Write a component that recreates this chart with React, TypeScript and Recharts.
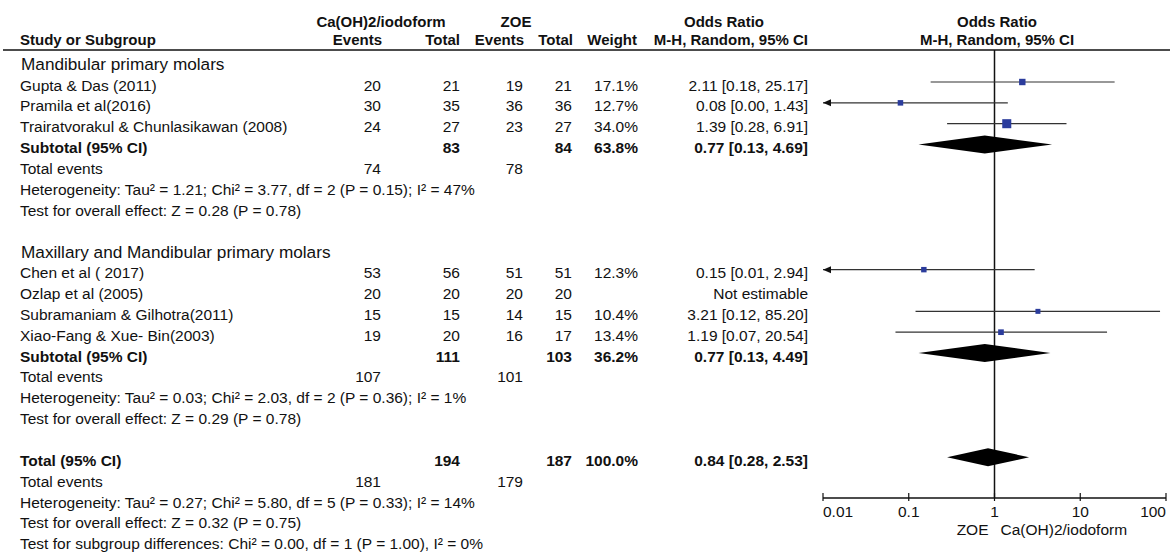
import React from 'react';
import { ComposedChart, Scatter, XAxis, YAxis, ReferenceLine, ReferenceDot } from 'recharts';

// ---- data ----
const groupNames = ['Mandibular primary molars', 'Maxillary and Mandibular primary molars'];

const studyNames = [
  'Gupta & Das (2011)',
  'Pramila et al(2016)',
  'Trairatvorakul & Chunlasikawan (2008)',
  'Chen et al ( 2017)',
  'Ozlap et al (2005)',
  'Subramaniam & Gilhotra(2011)',
  'Xiao-Fang & Xue- Bin(2003)',
];
const studyGroup = [0, 0, 0, 1, 1, 1, 1];
const caEvents = [20, 30, 24, 53, 20, 15, 19];
const caTotal = [21, 35, 27, 56, 20, 15, 20];
const zoeEvents = [19, 36, 23, 51, 20, 14, 16];
const zoeTotal = [21, 36, 27, 51, 20, 15, 17];
const studyWeight = [17.1, 12.7, 34.0, 12.3, null, 10.4, 13.4];
const studyOr = [2.11, 0.08, 1.39, 0.15, null, 3.21, 1.19];
const studyLow = [0.18, 0.0, 0.28, 0.01, null, 0.12, 0.07];
const studyHigh = [25.17, 1.43, 6.91, 2.94, null, 85.2, 20.54];

const subCaEvents = [74, 107];
const subCaTotal = [83, 111];
const subZoeEvents = [78, 101];
const subZoeTotal = [84, 103];
const subWeight = [63.8, 36.2];
const subOr = [0.77, 0.77];
const subLow = [0.13, 0.13];
const subHigh = [4.69, 4.49];
const subTau2 = [1.21, 0.03];
const subChi2 = [3.77, 2.03];
const subDf = [2, 2];
const subPHet = [0.15, 0.36];
const subI2 = [47, 1];
const subZ = [0.28, 0.29];
const subPZ = [0.78, 0.78];

const total = { caEvents: 181, caTotal: 194, zoeEvents: 179, zoeTotal: 187, weight: 100.0 };
const totalOr = 0.84;
const totalLow = 0.28;
const totalHigh = 2.53;
const totalHet = { tau2: 0.27, chi2: 5.8, df: 5, p: 0.33, i2: 14 };
const totalZ = { z: 0.32, p: 0.75 };
const subgroupDiff = { chi2: 0.0, df: 1, p: 1.0, i2: 0 };

const axisTicks = [0.01, 0.1, 1, 10, 100];
const favoursLeft = 'ZOE';
const favoursRight = 'Ca(OH)2/iodoform';

// ---- layout ----
const W = 1172;
const H = 553;
const FIRST_ROW_Y = 82;
const ROW_H = 20.85;
const PLOT_LEFT = 823;
const PLOT_RIGHT = 1166;
const AXIS_Y = 498;
const HEADER_LINE_Y = 50;
const TEXT_DY = 8.5;
const FS = 15.5;
const FS_HEAD = 15;
const FONT = '"Liberation Sans", Arial, sans-serif';
const INK = '#111';
const X_MIN = axisTicks[0];
const X_MAX = axisTicks[axisTicks.length - 1];

const rowOf = (px: number) => (px - FIRST_ROW_Y) / ROW_H;
const K_AXIS = rowOf(AXIS_Y);
const K_LINE_TOP = rowOf(HEADER_LINE_Y);

const COL = { caE: 381, caT: 460, zoeE: 523, zoeT: 572, weight: 638, or: 808 };

const f2 = (v: number) => v.toFixed(2);
const orText = (e: number, l: number, h: number) => `${f2(e)} [${f2(l)}, ${f2(h)}]`;
const hetText = (tau2: number, chi2: number, df: number, p: number, i2: number) =>
  `Heterogeneity: Tau² = ${f2(tau2)}; Chi² = ${f2(chi2)}, df = ${df} (P = ${f2(p)}); I² = ${i2}%`;
const zText = (z: number, p: number) => `Test for overall effect: Z = ${f2(z)} (P = ${f2(p)})`;

type TableRow = {
  x: number;
  k: number;
  kind: 'header' | 'heading' | 'row';
  name?: string;
  bold?: boolean;
  caE?: string;
  caT?: string;
  zoeE?: string;
  zoeT?: string;
  weight?: string;
  or?: string;
};

// build table rows, marks and diamonds
const tableRows: TableRow[] = [{ x: 1, k: -2, kind: 'header' }];
const squares: { x: number; k: number; w: number }[] = [];
const ciLines: { lo: number; hi: number; k: number }[] = [];
const diamonds: { est: number; lo: number; hi: number; k: number }[] = [];

let k = -1;
groupNames.forEach((g, gi) => {
  tableRows.push({ x: 1, k, kind: 'heading', name: g });
  k++;
  studyNames.forEach((s, i) => {
    if (studyGroup[i] !== gi) return;
    const est = studyOr[i];
    tableRows.push({
      x: 1, k, kind: 'row', name: s,
      caE: String(caEvents[i]), caT: String(caTotal[i]),
      zoeE: String(zoeEvents[i]), zoeT: String(zoeTotal[i]),
      weight: studyWeight[i] != null ? `${(studyWeight[i] as number).toFixed(1)}%` : '',
      or: est != null ? orText(est, studyLow[i] as number, studyHigh[i] as number) : 'Not estimable',
    });
    if (est != null) {
      squares.push({ x: est, k, w: studyWeight[i] as number });
      ciLines.push({ lo: studyLow[i] as number, hi: studyHigh[i] as number, k });
    }
    k++;
  });
  tableRows.push({
    x: 1, k, kind: 'row', bold: true, name: 'Subtotal (95% CI)',
    caT: String(subCaTotal[gi]), zoeT: String(subZoeTotal[gi]),
    weight: `${subWeight[gi].toFixed(1)}%`, or: orText(subOr[gi], subLow[gi], subHigh[gi]),
  });
  diamonds.push({ est: subOr[gi], lo: subLow[gi], hi: subHigh[gi], k });
  k++;
  tableRows.push({ x: 1, k, kind: 'row', name: 'Total events', caE: String(subCaEvents[gi]), zoeE: String(subZoeEvents[gi]) });
  k++;
  tableRows.push({ x: 1, k, kind: 'row', name: hetText(subTau2[gi], subChi2[gi], subDf[gi], subPHet[gi], subI2[gi]) });
  k++;
  tableRows.push({ x: 1, k, kind: 'row', name: zText(subZ[gi], subPZ[gi]) });
  k += 2;
});
tableRows.push({
  x: 1, k, kind: 'row', bold: true, name: 'Total (95% CI)',
  caT: String(total.caTotal), zoeT: String(total.zoeTotal),
  weight: `${total.weight.toFixed(1)}%`, or: orText(totalOr, totalLow, totalHigh),
});
diamonds.push({ est: totalOr, lo: totalLow, hi: totalHigh, k });
k++;
tableRows.push({ x: 1, k, kind: 'row', name: 'Total events', caE: String(total.caEvents), zoeE: String(total.zoeEvents) });
k++;
tableRows.push({ x: 1, k, kind: 'row', name: hetText(totalHet.tau2, totalHet.chi2, totalHet.df, totalHet.p, totalHet.i2) });
k++;
tableRows.push({ x: 1, k, kind: 'row', name: zText(totalZ.z, totalZ.p) });
k++;
tableRows.push({
  x: 1, k, kind: 'row',
  name: `Test for subgroup differences: Chi² = ${f2(subgroupDiff.chi2)}, df = ${subgroupDiff.df} (P = ${f2(subgroupDiff.p)}), I² = ${subgroupDiff.i2}%`,
});

const tickData = axisTicks.map((t) => ({ x: t, k: K_AXIS }));

const txt = (s: string | undefined, x: number, y: number, anchor: 'start' | 'middle' | 'end', bold?: boolean, size = FS) =>
  s ? (
    <text x={x} y={y} textAnchor={anchor} fontFamily={FONT} fontSize={size} fontWeight={bold ? 'bold' : 'normal'} fill={INK}>
      {s}
    </text>
  ) : null;

const RowShape = (props: any) => {
  const { cy, payload } = props;
  const r = payload as TableRow;
  if (r.kind === 'header') {
    const b2 = cy + 4.5;
    const b1 = cy - 13;
    return (
      <g>
        {txt('Ca(OH)2/iodoform', 381, b1, 'middle', true, FS_HEAD)}
        {txt('ZOE', 516, b1, 'middle', true, FS_HEAD)}
        {txt('Odds Ratio', 724, b1, 'middle', true, FS_HEAD)}
        {txt('Odds Ratio', 997, b1, 'middle', true, FS_HEAD)}
        {txt('Study or Subgroup', 20, b2, 'start', true, FS_HEAD)}
        {txt('Events', 382, b2, 'end', true, FS_HEAD)}
        {txt('Total', 460, b2, 'end', true, FS_HEAD)}
        {txt('Events', 524, b2, 'end', true, FS_HEAD)}
        {txt('Total', 573, b2, 'end', true, FS_HEAD)}
        {txt('Weight', 637, b2, 'end', true, FS_HEAD)}
        {txt('M-H, Random, 95% CI', 808, b2, 'end', true, FS_HEAD)}
        {txt('M-H, Random, 95% CI', 997, b2, 'middle', true, FS_HEAD)}
        <line x1={3} x2={1170} y1={HEADER_LINE_Y} y2={HEADER_LINE_Y} stroke={INK} strokeWidth={1.5} />
      </g>
    );
  }
  if (r.kind === 'heading') {
    return <g>{txt(r.name, 21, cy + TEXT_DY + 0.5, 'start', false, 17.2)}</g>;
  }
  const y = cy + TEXT_DY;
  return (
    <g>
      {txt(r.name, 20, y, 'start', r.bold)}
      {txt(r.caE, COL.caE, y, 'end', r.bold)}
      {txt(r.caT, COL.caT, y, 'end', r.bold)}
      {txt(r.zoeE, COL.zoeE, y, 'end', r.bold)}
      {txt(r.zoeT, COL.zoeT, y, 'end', r.bold)}
      {txt(r.weight, COL.weight, y, 'end', r.bold)}
      {txt(r.or, COL.or, y, 'end', r.bold)}
    </g>
  );
};

const SquareShape = (props: any) => {
  const { cx, cy, payload } = props;
  const s = 1.55 * Math.sqrt(payload.w);
  return <rect x={cx - s / 2} y={cy - s / 2} width={s} height={s} fill="#2b3c9c" />;
};

const TickShape = (props: any) => {
  const { cx, cy, payload } = props;
  const first = payload.x === X_MIN;
  const last = payload.x === X_MAX;
  return (
    <g>
      <line x1={cx} x2={cx} y1={cy - 5} y2={cy + 3} stroke={INK} strokeWidth={1.2} />
      {txt(String(payload.x), cx, cy + 19, first ? 'start' : last ? 'end' : 'middle')}
    </g>
  );
};

const ciShape = (clipped: boolean) => (p: any) => (
  <g>
    <line x1={p.x1} x2={p.x2} y1={p.y1} y2={p.y2} stroke="#333" strokeWidth={1.2} />
    {clipped && <polygon points={`${p.x1},${p.y1} ${p.x1 + 8},${p.y1 - 3.5} ${p.x1 + 8},${p.y1 + 3.5}`} fill="#111" />}
  </g>
);

const diamondShape = (d: { est: number; lo: number; hi: number }) => (p: any) => {
  const frac = Math.log(d.est / d.lo) / Math.log(d.hi / d.lo);
  const mx = p.x1 + (p.x2 - p.x1) * frac;
  const h = 9;
  return <polygon points={`${p.x1},${p.y1} ${mx},${p.y1 - h} ${p.x2},${p.y1} ${mx},${p.y1 + h}`} fill="#000" />;
};

const AxisTitle = (p: any) => (
  <g>
    {txt(favoursLeft, p.cx - 6, p.cy + 37, 'end')}
    {txt(favoursRight, p.cx + 6, p.cy + 37, 'start')}
  </g>
);

export default function App() {
  return (
    <div style={{ position: 'absolute', left: 0, top: 0, background: '#fff' }}>
      <ComposedChart
        width={W}
        height={H}
        margin={{ top: 0, right: W - PLOT_RIGHT, bottom: 0, left: PLOT_LEFT }}
      >
        <XAxis type="number" dataKey="x" scale="log" domain={[X_MIN, X_MAX]} hide />
        <YAxis type="number" dataKey="k" domain={[rowOf(0), rowOf(H)]} reversed hide />

        <ReferenceLine
          segment={[{ x: 1, y: K_LINE_TOP }, { x: 1, y: K_AXIS }]}
          stroke={INK}
          strokeWidth={1.5}
          ifOverflow="visible"
        />
        <ReferenceLine
          segment={[{ x: X_MIN, y: K_AXIS }, { x: X_MAX, y: K_AXIS }]}
          stroke={INK}
          strokeWidth={1.5}
          ifOverflow="visible"
        />

        {ciLines.map((c, i) => (
          <ReferenceLine
            key={`ci-${i}`}
            segment={[{ x: Math.max(c.lo, X_MIN), y: c.k }, { x: c.hi, y: c.k }]}
            ifOverflow="visible"
            shape={ciShape(c.lo <= X_MIN)}
          />
        ))}
        {diamonds.map((d, i) => (
          <ReferenceLine
            key={`dm-${i}`}
            segment={[{ x: d.lo, y: d.k }, { x: d.hi, y: d.k }]}
            ifOverflow="visible"
            shape={diamondShape(d)}
          />
        ))}

        <Scatter data={squares} shape={SquareShape} isAnimationActive={false} />
        <Scatter data={tableRows} shape={RowShape} isAnimationActive={false} />
        <Scatter data={tickData} shape={TickShape} isAnimationActive={false} />
        <ReferenceDot x={1} y={K_AXIS} ifOverflow="visible" shape={AxisTitle} />
      </ComposedChart>
    </div>
  );
}
